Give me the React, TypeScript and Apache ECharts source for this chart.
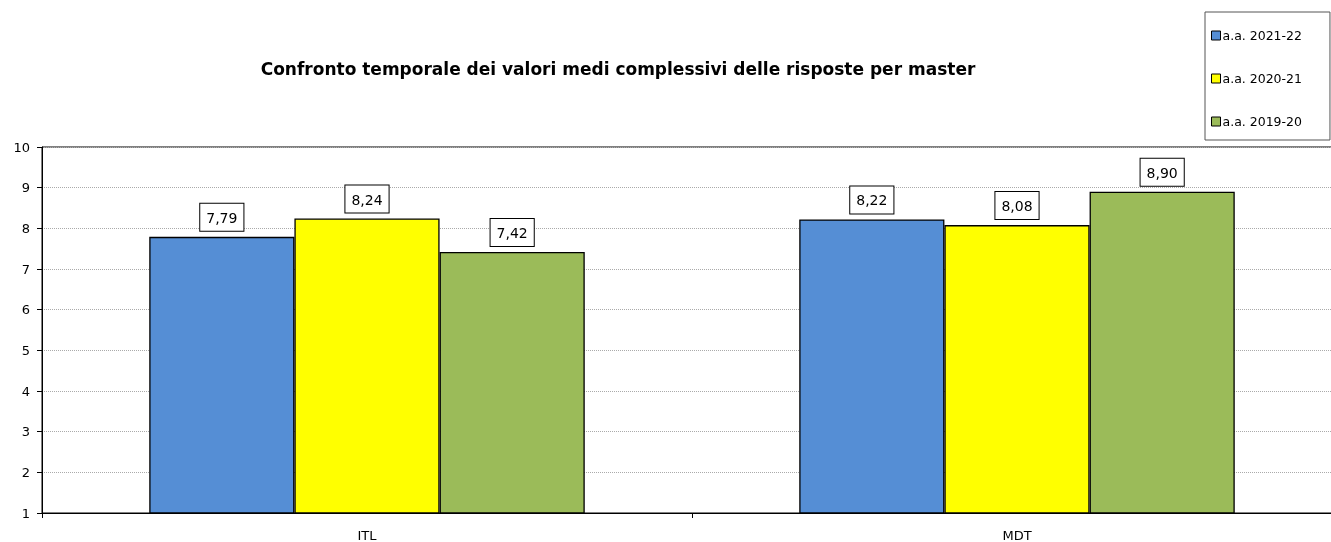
import React, { useEffect, useRef } from "react";
import * as echarts from "echarts";

const categories = ["ITL", "MDT"];
const seriesNames = ["a.a. 2021-22", "a.a. 2020-21", "a.a. 2019-20"];
const values2122 = [7.79, 8.22];
const values2021 = [8.24, 8.08];
const values1920 = [7.42, 8.9];
const colors = ["#558ED5", "#FFFF00", "#9BBB59"];
const title = "Confronto temporale dei valori medi complessivi delle risposte per master";

export default function App() {
  const ref = useRef<HTMLDivElement>(null);
  useEffect(() => {
    if (!ref.current) return;
    const chart = echarts.init(ref.current, null, { renderer: "svg" });
    const data = [values2122, values2021, values1920];
    const font = "'DejaVu Sans', Verdana, sans-serif";
    chart.setOption({
      animation: false,
      textStyle: { fontFamily: font },
      title: {
        text: title,
        left: 613,
        textAlign: "center",
        top: 55,
        textStyle: { fontSize: 17, fontWeight: "bold", color: "#000", fontFamily: font },
      },
      legend: {
        orient: "vertical",
        left: 1205,
        top: 12,
        padding: [17, 28, 12, 6],
        itemGap: 30,
        itemWidth: 9,
        itemHeight: 9,
        backgroundColor: "#fff",
        borderColor: "#555",
        borderWidth: 1,
        icon: "rect",
        itemStyle: { borderColor: "#000", borderWidth: 1 },
        textStyle: { fontSize: 12.5, color: "#000", padding: [0, 0, 0, -3] },
        data: seriesNames,
      },
      grid: {
        left: 42,
        width: 1300,
        top: 147,
        bottom: 29,
        outerBoundsMode: "none",
        containLabel: false,
        show: true,
        borderColor: "#000",
        borderWidth: 1,
      },
      xAxis: {
        type: "category",
        data: categories,
        axisLine: { lineStyle: { color: "#000", width: 1 } },
        axisTick: { show: true, length: 5, lineStyle: { color: "#000" } },
        axisLabel: { color: "#000", fontSize: 13, margin: 16 },
      },
      yAxis: {
        type: "value",
        min: 1,
        max: 10,
        interval: 1,
        axisLine: { show: true, lineStyle: { color: "#000", width: 1 } },
        axisTick: { show: true, length: 5, lineStyle: { color: "#000" } },
        axisLabel: { color: "#000", fontSize: 13, margin: 12 },
        splitLine: { lineStyle: { color: "#aaa", type: [1, 1], width: 1 } },
      },
      series: seriesNames.map((name, i) => ({
        name,
        type: "bar",
        data: data[i],
        barGap: "0%",
        barCategoryGap: "33%",
        itemStyle: { color: colors[i], borderColor: "#000", borderWidth: 1.3 },
        label: {
          show: true,
          position: "top",
          distance: 6,
          color: "#000",
          fontSize: 14,
          backgroundColor: "#fff",
          borderColor: "#000",
          borderWidth: 1,
          padding: [7, 6, 6, 6],
          formatter: (p: any) => Number(p.value).toFixed(2).replace(".", ","),
        },
      })),
    });
    return () => chart.dispose();
  }, []);
  return <div ref={ref} style={{ position: "fixed", left: 0, top: 0, width: 1331, height: 542 }} />;
}
